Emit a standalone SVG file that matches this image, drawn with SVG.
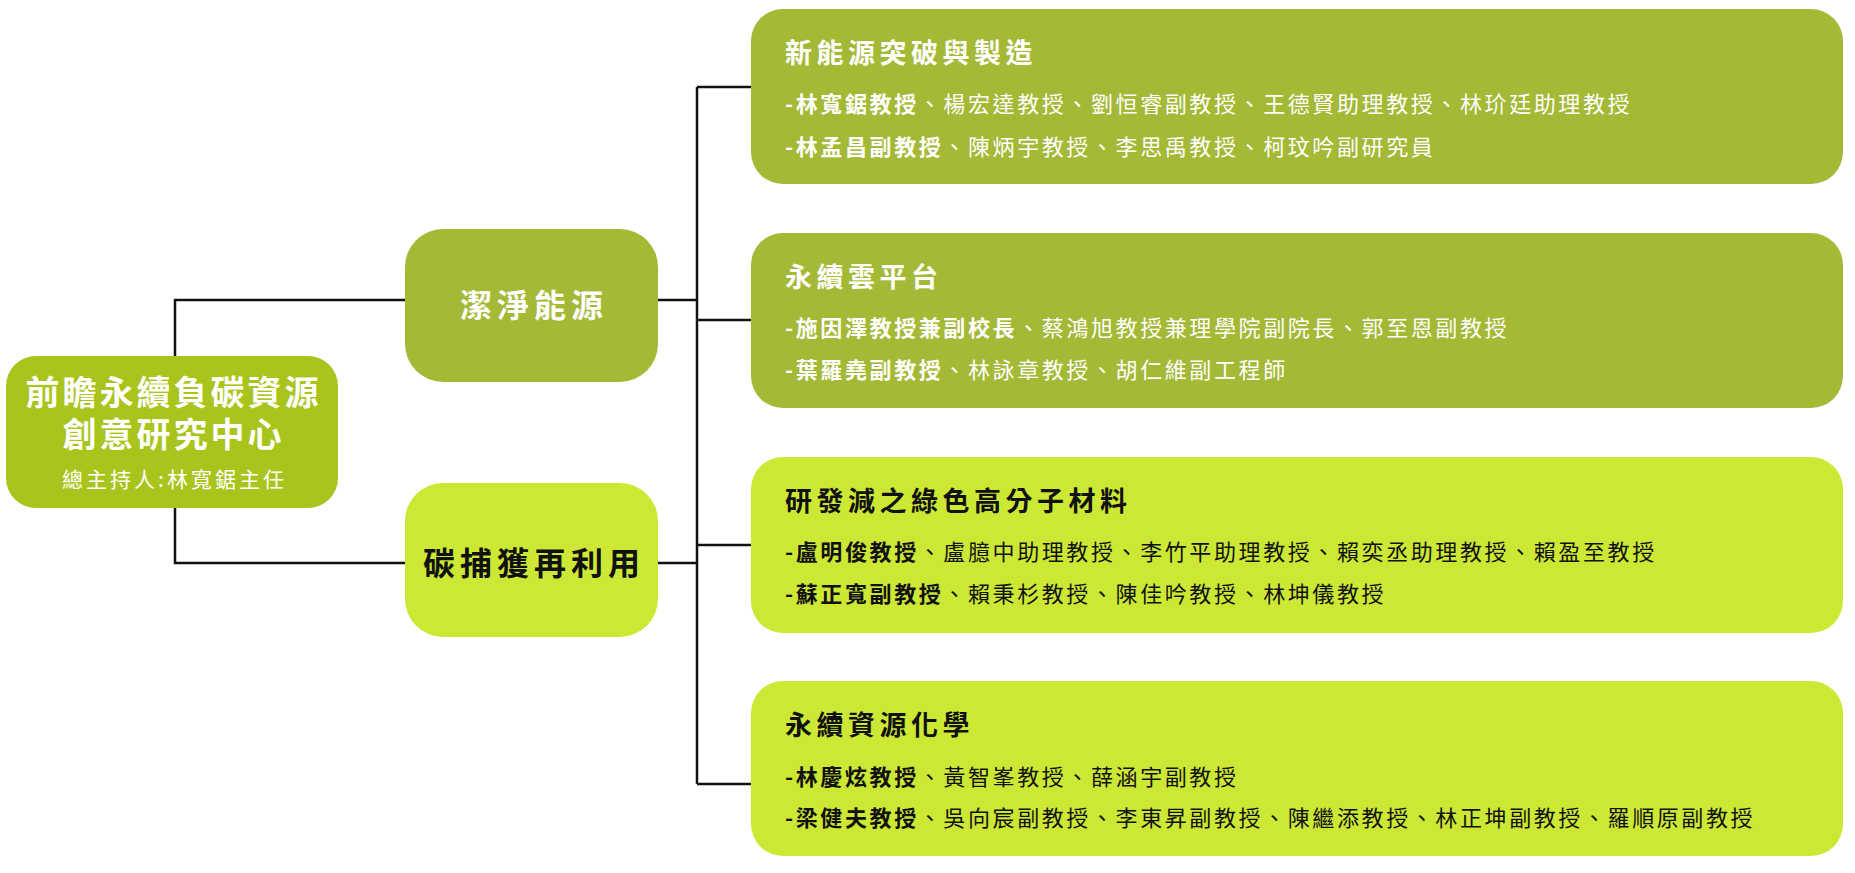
<svg xmlns="http://www.w3.org/2000/svg" width="1855" height="873" viewBox="0 0 1855 873">
<style>
text{font-family:"Noto Sans CJK TC","Noto Sans CJK SC",sans-serif}
.olive{fill:#A4B936}
.lime{fill:#CDE834}
.root{fill:#A9C41C}
.w{fill:#FFFFFF}
.k{fill:#111111}
.rt{font-size:34px;font-weight:700;letter-spacing:3px}
.rs{font-size:21px;font-weight:400;letter-spacing:3px}
.mt{font-size:32px;font-weight:700;letter-spacing:5px}
.bt{font-size:27px;font-weight:700;letter-spacing:4.5px}
.bl{font-size:22px;font-weight:400;letter-spacing:2.6px}
.b{font-weight:700}
.conn{fill:none;stroke:#111111;stroke-width:2.5}
</style>
<rect width="1855" height="873" fill="#FFFFFF"/>
<g id="connectors">
<path class="conn" d="M405,300 H175 V563 H405"/>
<path class="conn" d="M658,300 H697 M658,563 H697"/>
<path class="conn" d="M697,87 V784"/>
<path class="conn" d="M697,87 H752 M697,320 H752 M697,545 H752 M697,784 H752"/>
</g>
<g id="root">
<rect class="root" x="6" y="356" width="332" height="152" rx="30"/>
<text class="rt w" text-anchor="middle"><tspan x="173.5" y="405">前瞻永續負碳資源</tspan><tspan x="173.5" y="447">創意研究中心</tspan></text>
<text class="rs w" x="174.5" y="487" text-anchor="middle">總主持人:林寬鋸主任</text>
</g>
<g id="clean-energy">
<rect class="olive" x="405" y="229" width="253" height="153" rx="38"/>
<text class="mt w" x="534" y="317" text-anchor="middle">潔淨能源</text>
</g>
<g id="carbon-capture">
<rect class="lime" x="405" y="483" width="253" height="154" rx="38"/>
<text class="mt k" x="534" y="575" text-anchor="middle">碳捕獲再利用</text>
</g>
<g id="box-new-energy">
<rect class="olive" x="751" y="9" width="1092" height="175" rx="32"/>
<text class="bt w" x="785" y="63">新能源突破與製造</text>
<text class="bl w" x="785" y="112"><tspan class="b">-林寬鋸教授</tspan>、楊宏達教授、劉恒睿副教授、王德賢助理教授、林玠廷助理教授</text>
<text class="bl w" x="785" y="155"><tspan class="b">-林孟昌副教授</tspan>、陳炳宇教授、李思禹教授、柯玟吟副研究員</text>
</g>
<g id="box-cloud">
<rect class="olive" x="751" y="233" width="1092" height="175" rx="32"/>
<text class="bt w" x="785" y="287">永續雲平台</text>
<text class="bl w" x="785" y="336"><tspan class="b">-施因澤教授兼副校長</tspan>、蔡鴻旭教授兼理學院副院長、郭至恩副教授</text>
<text class="bl w" x="785" y="378"><tspan class="b">-葉羅堯副教授</tspan>、林詠章教授、胡仁維副工程師</text>
</g>
<g id="box-polymer">
<rect class="lime" x="751" y="457" width="1092" height="176" rx="32"/>
<text class="bt k" x="785" y="511">研發減之綠色高分子材料</text>
<text class="bl k" x="785" y="560"><tspan class="b">-盧明俊教授</tspan>、盧臆中助理教授、李竹平助理教授、賴奕丞助理教授、賴盈至教授</text>
<text class="bl k" x="785" y="602"><tspan class="b">-蘇正寬副教授</tspan>、賴秉杉教授、陳佳吟教授、林坤儀教授</text>
</g>
<g id="box-chemistry">
<rect class="lime" x="751" y="681" width="1092" height="175" rx="32"/>
<text class="bt k" x="785" y="735">永續資源化學</text>
<text class="bl k" x="785" y="785"><tspan class="b">-林慶炫教授</tspan>、黃智峯教授、薛涵宇副教授</text>
<text class="bl k" x="785" y="826"><tspan class="b">-梁健夫教授</tspan>、吳向宸副教授、李東昇副教授、陳繼添教授、林正坤副教授、羅順原副教授</text>
</g>
</svg>
